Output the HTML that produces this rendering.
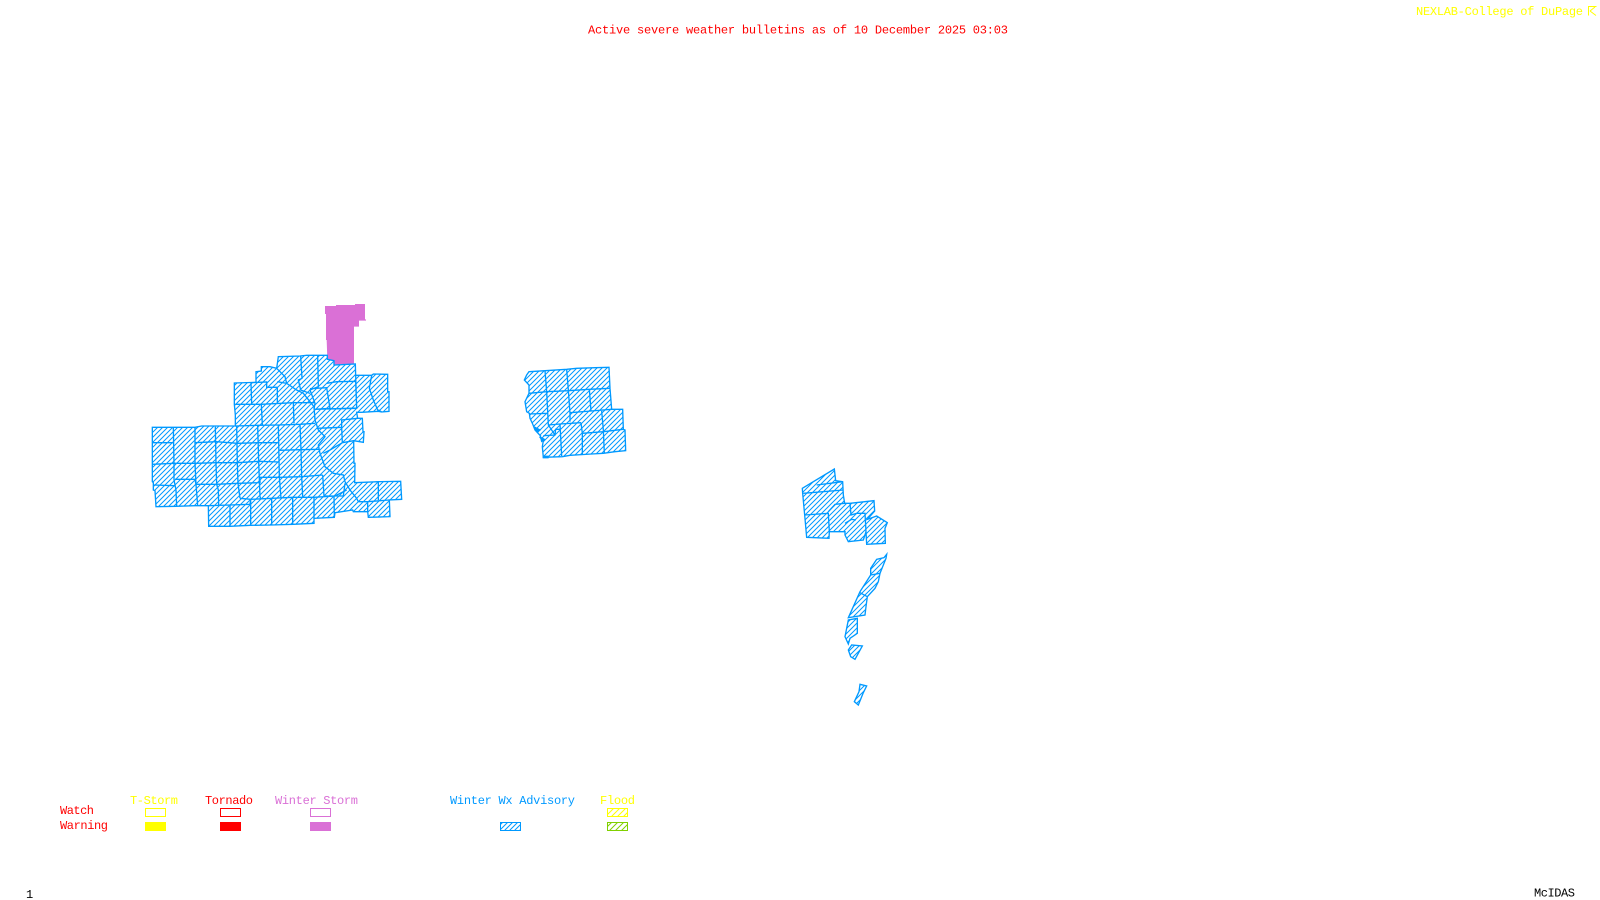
<!DOCTYPE html>
<html><head><meta charset="utf-8"><title>Active severe weather bulletins</title>
<style>
html,body{margin:0;padding:0;background:#fff;width:1600px;height:900px;overflow:hidden}
svg{display:block}
text{font-family:"Liberation Mono",monospace;font-size:12px}
</style></head><body>
<svg xmlns="http://www.w3.org/2000/svg" width="1600" height="900" viewBox="0 0 1600 900">
<defs>
<pattern id="hb" width="5" height="5" patternUnits="userSpaceOnUse"><path d="M-1 1L1 -1M0 5L5 0M4 6L6 4" stroke="#0099ff" stroke-width="1" fill="none"/></pattern>
<pattern id="hz" width="15" height="15" patternUnits="userSpaceOnUse"><path d="M-3 3L3 -3M0 15L15 0M12 18L18 12" stroke="#0099ff" stroke-width="3" fill="none"/></pattern>
<pattern id="hy" width="6" height="6" patternUnits="userSpaceOnUse"><path d="M-1 1L1 -1M0 6L6 0M5 7L7 5" stroke="#ffff00" stroke-width="1" fill="none"/></pattern>
<pattern id="hg" width="6" height="6" patternUnits="userSpaceOnUse"><path d="M-1 1L1 -1M0 6L6 0M5 7L7 5" stroke="#80d000" stroke-width="1" fill="none"/></pattern>
</defs>
<text x="588" y="33.5" fill="#ff0000" textLength="420" lengthAdjust="spacing">Active severe weather bulletins as of 10 December 2025 03:03</text>
<text x="1416" y="15" fill="#ffff00" textLength="167" lengthAdjust="spacing">NEXLAB-College of DuPage</text>
<path d="M1588.5 15.5V6.5H1596.5M1590 11L1595 7M1590 11L1596 15.5" stroke="#ffff00" stroke-width="1" fill="none"/>

<!-- Zone 1 -->
<g transform="translate(130,290) scale(0.33333)" fill="none" stroke="#0099ff" stroke-width="4" stroke-linejoin="miter">
<polygon fill="#da70d6" stroke="none" points="585,48 618,48 618,45 675,45 675,42 705,42 705,88 708,88 708,92 687,92 687,110 672,110 672,222 612,225 612,212 592,208 590,150 588,150 588,72 585,72"/>
<polygon fill="url(#hz)" points="445,200 510,198 530,196 592,196 592,208 612,212 612,225 676,222 677,256 725,256 730,252 773,253 773,305 777,305 777,364 755,366 745,364 695,367 680,367 683,385 697,385 699,425 702,425 700,457 671,452 672,520 675,520 674,578 745,575 812,574 815,628 778,630 780,680 715,682 713,665 670,665 668,660 615,668 613,682 552,685 552,700 490,703 425,705 362,706 300,709 236,709 235,647 195,647 138,649 78,650 75,602 70,600 70,578 67,575 67,412 130,412 195,412 215,408 316,408 316,375 313,343 313,279 378,277 378,245 394,243 394,230 420,230 440,235"/>
<path d="M130 412L132 520L132 570L138 600L140 649M195 412L195 520L198 583L203 647M256 410L258 520L260 583L265 600L266 645M320 408L322 520L324 580L330 625M383 406L386 515L390 620L392 625M445 405L448 560L453 625M510 403L513 480L515 560L518 620"/>
<path d="M67 458H130M67 523L132 520L195 520L260 518L322 518L386 514L448 516M70 585L135 587M135 568L195 568L198 583L260 583L324 580L390 578L390 562L450 562L515 560L578 555M195 458L258 455L322 460L386 458L448 458M448 481L510 479L568 478"/>
<path d="M330 625L362 628L425 625L488 622L552 622L615 618L650 600M236 647L300 645L360 643L362 628M300 645V709M362 628V706M425 625V705M488 622V703M552 622V685M612 618L613 682"/>
<path d="M316 343L394 343L490 338L552 338M316 408L383 406L445 405L510 403L555 400M394 343L397 405M490 338L492 400M363 279L365 343M362 278L410 276L410 292L442 292L442 340"/>
<path d="M442 275L470 280L500 300L520 310L540 335L552 350L555 390L565 420L585 440L565 465L570 490L585 530L610 550L640 555L645 575L660 600L680 625L685 635L713 635L713 665"/>
<path d="M440 235L465 260L470 280M512 198L516 265L505 270L512 300L540 310M563 196L565 290L540 300L555 340L552 358M540 296L590 293L600 355L555 358M590 280L620 275L677 274L680 355L600 357M555 358L680 354M560 415L635 412L635 390L683 385M635 412L637 458L600 480L580 490M637 458L671 452M677 256L680 355M725 256L718 295L730 330L745 364M745 360L755 366M578 555L582 618L640 618L645 580M745 575V630M713 635L778 630"/>
</g>

<!-- Zone 2 -->
<g transform="translate(510,350) scale(0.33333)" fill="none" stroke="#0099ff" stroke-width="4">
<polygon fill="url(#hz)" points="57,65 105,62 170,58 200,55 255,53 297,52 300,115 305,178 338,178 340,238 345,240 347,302 315,305 280,310 245,312 180,316 157,320 100,322 97,290 100,272 90,262 92,258 75,240 68,222 60,205 58,190 50,185 45,155 57,130 57,105 43,90 50,75"/>
<path d="M105 62L110 125L115 225L135 255M170 58L175 120L180 190L180 215M238 118L243 183M275 183L280 240L283 310M213 218L217 250L217 312M57 130L110 125L175 122L238 118L300 115M58 192L113 190M180 188L243 183L305 178M115 225L150 222L213 218M217 250L280 245L340 238M150 222L155 318M100 257L135 255L137 238L150 238"/>
<path d="M75 232L90 240L82 246ZM92 262L103 268L95 274ZM100 319H114V323H100Z" fill="#0099ff"/>
</g>

<!-- Zone 3 -->
<g transform="translate(780,460) scale(0.33333)" fill="none" stroke="#0099ff" stroke-width="4">
<polygon fill="url(#hz)" points="67,85 163,27 167,62 188,65 190,105 194,130 210,130 282,122 284,153 262,178 290,168 322,188 315,205 316,250 260,253 258,215 250,240 205,245 195,225 195,215 148,215 147,235 80,232 74,165 68,100"/>
<path d="M70 100L190 90M74 165L145 160L148 215M145 155L165 133L194 130M110 75L188 65M210 130L213 165L230 160L255 160L258 215M195 190L215 178L228 180"/>
<polygon fill="url(#hz)" points="320,283 318,295 300,340 295,365 285,385 262,410 258,440 255,465 205,473 240,395 272,345 272,325 290,298 312,293"/>
<path d="M272 345L300 340M240 398L262 410"/>
<polygon fill="url(#hz)" points="232,475 232,520 210,535 205,552 195,530 205,480"/>
<polygon fill="url(#hz)" points="205,570 215,555 247,558 225,598 212,590"/>
<polygon fill="url(#hz)" points="240,673 260,678 250,698 235,735 223,725 237,695"/>
</g>

<!-- Legend -->
<text x="60" y="814" fill="#ff0000" textLength="34" lengthAdjust="spacing">Watch</text>
<text x="60" y="829" fill="#ff0000" textLength="48" lengthAdjust="spacing">Warning</text>
<text x="130" y="804" fill="#ffff00" textLength="48" lengthAdjust="spacing">T-Storm</text>
<text x="205" y="804" fill="#ff0000" textLength="48" lengthAdjust="spacing">Tornado</text>
<text x="275" y="804" fill="#da70d6" textLength="83" lengthAdjust="spacing">Winter Storm</text>
<text x="450" y="804" fill="#0099ff" textLength="125" lengthAdjust="spacing">Winter Wx Advisory</text>
<text x="600" y="804" fill="#ffff00" textLength="35" lengthAdjust="spacing">Flood</text>
<rect x="145.5" y="808.5" width="20" height="8" fill="none" stroke="#ffff00"/>
<rect x="220.5" y="808.5" width="20" height="8" fill="none" stroke="#ff0000"/>
<rect x="310.5" y="808.5" width="20" height="8" fill="none" stroke="#da70d6"/>
<rect x="145" y="822" width="21" height="9" fill="#ffff00"/>
<rect x="220" y="822" width="21" height="9" fill="#ff0000"/>
<rect x="310" y="822" width="21" height="9" fill="#da70d6"/>
<rect x="500.5" y="822.5" width="20" height="8" fill="url(#hb)" stroke="#0099ff"/>
<rect x="607.5" y="808.5" width="20" height="8" fill="url(#hy)" stroke="#ffff00"/>
<rect x="607.5" y="822.5" width="20" height="8" fill="url(#hg)" stroke="#80d000"/>

<text x="26" y="898" fill="#000000" textLength="6" lengthAdjust="spacing">1</text>
<text x="1534" y="896.5" fill="#000000" textLength="41" lengthAdjust="spacing">McIDAS</text>
</svg>
</body></html>
